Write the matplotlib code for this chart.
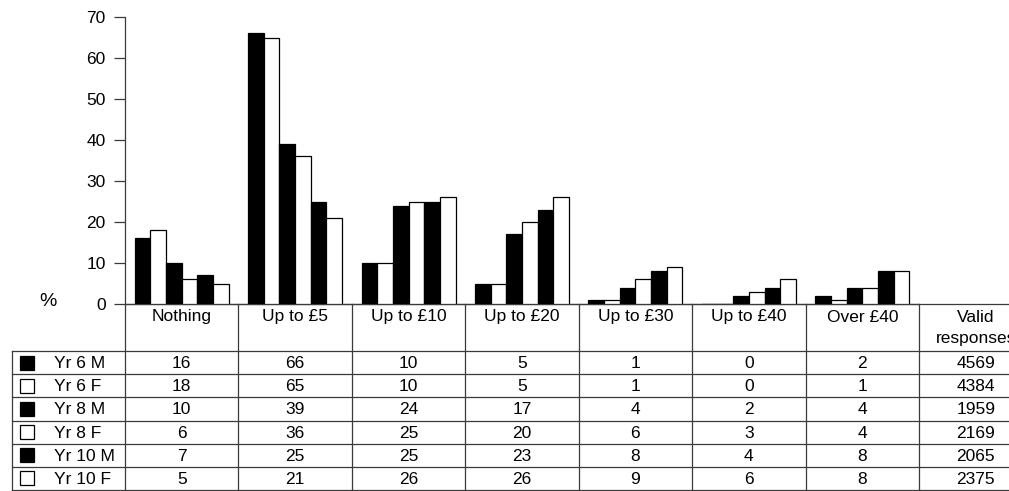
import numpy as np
import matplotlib.pyplot as plt

plt.rcParams['font.family'] = ['Liberation Sans', 'DejaVu Sans']

# categories and series
categories = ['Nothing', 'Up to £5', 'Up to £10', 'Up to £20', 'Up to £30', 'Up to £40', 'Over £40']
series = ['Yr 6 M', 'Yr 6 F', 'Yr 8 M', 'Yr 8 F', 'Yr 10 M', 'Yr 10 F']
yr6_m = [16, 66, 10, 5, 1, 0, 2]
yr6_f = [18, 65, 10, 5, 1, 0, 1]
yr8_m = [10, 39, 24, 17, 4, 2, 4]
yr8_f = [6, 36, 25, 20, 6, 3, 4]
yr10_m = [7, 25, 25, 23, 8, 4, 8]
yr10_f = [5, 21, 26, 26, 9, 6, 8]
valid_responses = [4569, 4384, 1959, 2169, 2065, 2375]

values = [yr6_m, yr6_f, yr8_m, yr8_f, yr10_m, yr10_f]
fills = ['black', 'white', 'black', 'white', 'black', 'white']

W, H = 1009, 491
fig = plt.figure(figsize=(W / 100, H / 100), dpi=100)

# layout in pixels
ax_left, ax_right = 125, 919
ax_top, ax_bot = 17, 304
head_bot = 351
tab_bot = 490
tab_left = 12
line_col = '#3a3a3a'
fs = 12.5

ax = fig.add_axes([ax_left / W, 1 - ax_bot / H, (ax_right - ax_left) / W, (ax_bot - ax_top) / H])
ax.patch.set_alpha(0)

n_cat = len(categories)
x = np.arange(n_cat) + 0.5
bw = 0.138
for j, (vals, fc) in enumerate(zip(values, fills)):
    ax.bar(x + (j - 2.5) * bw, vals, width=bw, color=fc, edgecolor='black', linewidth=0.9, zorder=3)

ax.set_xlim(0, n_cat)
ax.set_ylim(0, 70)
ax.set_yticks(np.arange(0, 71, 10))
ax.set_xticks([])
ax.tick_params(axis='y', direction='out', length=8, width=0.9, pad=6, labelsize=fs, color=line_col)
for s in ['top', 'right']:
    ax.spines[s].set_visible(False)
for s in ['left', 'bottom']:
    ax.spines[s].set_color(line_col)
    ax.spines[s].set_linewidth(0.9)

# data table drawn in pixel coords
tab = fig.add_axes([0, 0, 1, 1], zorder=-1)
tab.set_xlim(0, W)
tab.set_ylim(H, 0)
tab.axis('off')

cw = (ax_right - ax_left) / n_cat
col_edges = ax_left + cw * np.arange(n_cat + 1)
row_h = (tab_bot - head_bot) / len(series)
row_edges = head_bot + row_h * np.arange(len(series) + 1)

lw = 0.9
tab.plot([ax_left, W], [ax_bot, ax_bot], color=line_col, lw=lw)
for xe in col_edges:
    tab.plot([xe, xe], [ax_bot, tab_bot], color=line_col, lw=lw)
for ye in row_edges:
    tab.plot([tab_left, W], [ye, ye], color=line_col, lw=lw)
tab.plot([tab_left, tab_left], [head_bot, tab_bot], color=line_col, lw=lw)

# header
for i, c in enumerate(categories):
    tab.text(col_edges[i] + cw / 2, ax_bot + 13, c, ha='center', va='center', fontsize=fs)
vx = ax_right + cw / 2
tab.text(vx, ax_bot + 13, 'Valid', ha='center', va='center', fontsize=fs)
tab.text(vx, ax_bot + 34, 'responses', ha='center', va='center', fontsize=fs)

# rows
for r, (name, vals, fc) in enumerate(zip(series, values, fills)):
    yc = row_edges[r] + row_h / 2
    tab.add_patch(plt.Rectangle((20, yc - 7), 14, 14, facecolor=fc, edgecolor='black', lw=0.9))
    tab.text(54, yc + 1, name, ha='left', va='center', fontsize=fs)
    for i, v in enumerate(vals):
        tab.text(col_edges[i] + cw / 2, yc + 1, str(v), ha='center', va='center', fontsize=fs)
    tab.text(vx, yc + 1, str(valid_responses[r]), ha='center', va='center', fontsize=fs)

tab.text(48, 302, '%', ha='center', va='center', fontsize=fs + 1.5)

fig.savefig('out.png', dpi=100)
